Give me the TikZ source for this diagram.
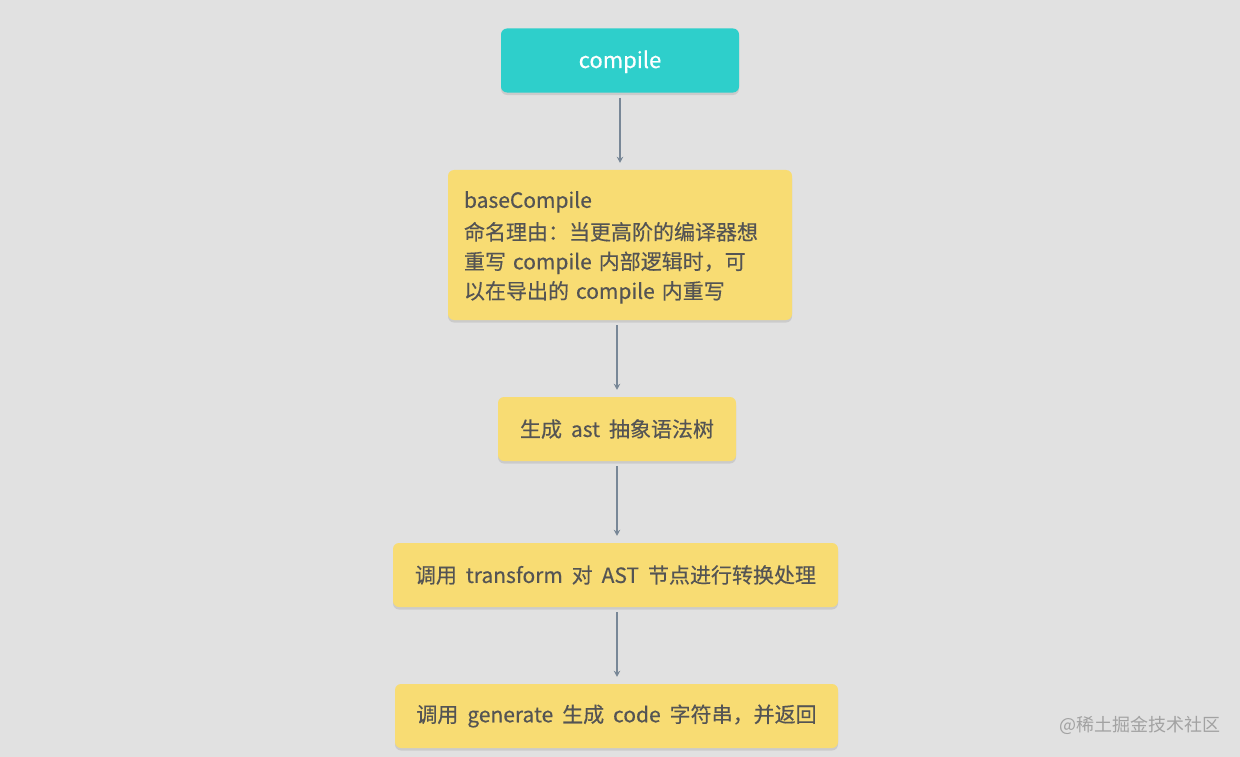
\documentclass[tikz,border=0pt]{standalone}
\usepackage{fontspec}
\setmainfont{Noto Sans CJK SC}[WordSpace=1.9, FakeBold=0.4]
\newfontfamily\markfont{Noto Sans CJK SC}
\usepackage{tikz}
\usetikzlibrary{arrows.meta,shadows}
\definecolor{bgGray}{HTML}{E1E1E1}
\definecolor{boxTeal}{HTML}{2ECFCB}
\definecolor{boxYellow}{HTML}{F8DC73}
\definecolor{textGray}{HTML}{545454}
\definecolor{arrowGray}{HTML}{788797}
\definecolor{markGray}{HTML}{A2A2A2}

\begin{document}
\begin{tikzpicture}[x=1bp,y=-1bp,
  flowbox/.style={rounded corners=6bp, fill=boxYellow, text=textGray,
    font=\fontsize{21bp}{29bp}\selectfont, minimum height=64bp, inner sep=0pt,
    drop shadow={shadow xshift=0bp, shadow yshift=-2.5bp, opacity=0.22}},
  flowarrow/.style={-{Stealth[length=6bp,width=6.5bp]}, arrowGray, line width=2.8bp,
    shorten <=5bp, shorten >=7bp}]
  % background
  \fill[bgGray] (0,0) rectangle (1240,757);
  \useasboundingbox (0,0) rectangle (1240,757);
  % boxes
  \node[flowbox, fill=boxTeal, text=white, minimum width=238bp,
    text height=16bp, text depth=1bp,
    font=\fontsize{22bp}{26bp}\selectfont] (compile) at (620,60.5) {compile};
  \node[flowbox, minimum width=344bp, minimum height=150bp, text width=312bp,
    align=left, font=\fontsize{21bp}{29.5bp}\selectfont] (base) at (620,245)
    {\rule{0pt}{21.5bp}baseCompile\\[2.5bp]命名理由：当更高阶的编译器想\\重写 compile 内部逻辑时，可\\以在导出的 compile 内重写};
  \node[flowbox, minimum width=238bp] (ast) at (617,429) {生成 ast 抽象语法树};
  \node[flowbox, minimum width=445bp] (transform) at (615.5,575) {调用 transform 对 AST 节点进行转换处理};
  \node[flowbox, minimum width=443bp] (generate) at (616.5,716) {调用 generate 生成 code 字符串，并返回};
  % arrows
  \draw[flowarrow] (compile.south) -- (base.north);
  \draw[flowarrow] (base.south -| ast.north) -- (ast.north);
  \draw[flowarrow] (ast.south) -- (ast.south |- transform.north);
  \draw[flowarrow] (ast.south |- transform.south) -- (ast.south |- generate.north);
  % watermark
  \node[text=markGray, font=\markfont\fontsize{18bp}{20bp}\selectfont] (watermark) at (1140,725) {@稀土掘金技术社区};
\end{tikzpicture}
\end{document}
